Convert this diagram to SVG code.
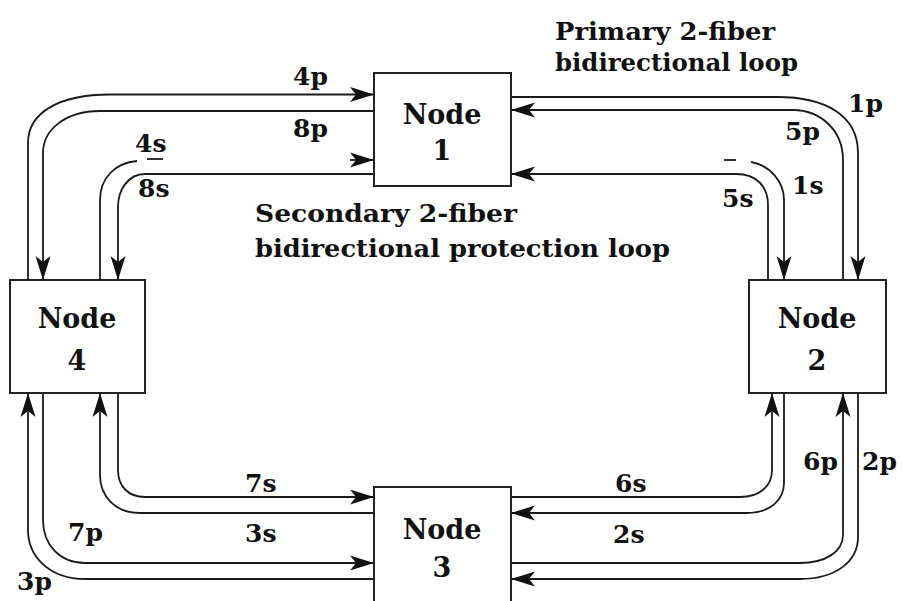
<svg xmlns="http://www.w3.org/2000/svg" width="902" height="601" viewBox="0 0 902 601">
<style>
.box{fill:#fff;stroke:#222;stroke-width:2}
.ln{fill:none;stroke:#1a1a1a;stroke-width:1.8}
.nt{font-family:"DejaVu Serif",serif;font-weight:bold;font-size:27px;fill:#111;text-anchor:middle}
.lb{font-family:"DejaVu Serif",serif;font-weight:bold;font-size:25px;fill:#111}
</style>
<defs>
<marker id="ar" markerUnits="userSpaceOnUse" markerWidth="26" markerHeight="18" refX="24" refY="9" orient="auto">
<path d="M24,9 L0,1.5 L6,9 L0,16.5 Z" fill="#111"/>
</marker>
</defs>
<rect width="902" height="601" fill="#fff"/>
<g id="connectors">
<path class="ln" d="M28,280 L28,143 C28,112 60,94.5 110,94.5 L374,94.5" marker-end="url(#ar)"/>
<path class="ln" d="M374,111 L100,111 C65,111 43,130 43,153 L43,280" marker-end="url(#ar)"/>
<path class="ln" d="M100,280 L100,200 C100,178 115,163 137,161"/>
<path class="ln" d="M147,159 L163,159"/>
<path class="ln" d="M350,160 L374,160" marker-end="url(#ar)"/>
<path class="ln" d="M374,174 L145,174 C128,174 118,190 118,207 L118,280" marker-end="url(#ar)"/>
<path class="ln" d="M511,97 L777,97 C825,97 858,115 858,153 L858,280" marker-end="url(#ar)"/>
<path class="ln" d="M843,280 L843,160 C843,130 820,110 793,110 L511,110" marker-end="url(#ar)"/>
<path class="ln" d="M724,160 L736,160"/>
<path class="ln" d="M751,162 C770,165 784,182 784,200 L784,280" marker-end="url(#ar)"/>
<path class="ln" d="M768,280 L768,205 C768,187 757,174 736,174 L511,174" marker-end="url(#ar)"/>
<path class="ln" d="M374,579 L85,579 C50,579 28,557 28,530 L28,393" marker-end="url(#ar)"/>
<path class="ln" d="M43,393 L43,520 C43,545 60,563 85,563 L374,563" marker-end="url(#ar)"/>
<path class="ln" d="M374,513 L140,513 C115,513 100,496 100,475 L100,393" marker-end="url(#ar)"/>
<path class="ln" d="M118,393 L118,470 C118,486 128,497 145,497 L374,497" marker-end="url(#ar)"/>
<path class="ln" d="M511,497 L740,497 C760,497 772,486 772,470 L772,393" marker-end="url(#ar)"/>
<path class="ln" d="M784,393 L784,483 C784,500 770,513 747,513 L511,513" marker-end="url(#ar)"/>
<path class="ln" d="M511,563 L800,563 C825,563 843,552 843,535 L843,393" marker-end="url(#ar)"/>
<path class="ln" d="M858,393 L858,537 C858,562 835,579 800,579 L511,579" marker-end="url(#ar)"/>
</g>
<g id="node1"><rect class="box" x="374" y="73" width="137" height="113"/><text class="nt" x="442" y="124">Node</text><text class="nt" x="442" y="160">1</text></g>
<g id="node2"><rect class="box" x="749" y="280" width="137" height="113"/><text class="nt" x="817" y="328">Node</text><text class="nt" x="817" y="370">2</text></g>
<g id="node3"><rect class="box" x="374" y="487" width="137" height="120"/><text class="nt" x="442" y="539">Node</text><text class="nt" x="442" y="577">3</text></g>
<g id="node4"><rect class="box" x="10" y="280" width="135" height="113"/><text class="nt" x="77" y="328">Node</text><text class="nt" x="77" y="370">4</text></g>
<g id="labels">
<text class="lb" x="555" y="40" textLength="220" lengthAdjust="spacingAndGlyphs">Primary 2-fiber</text>
<text class="lb" x="555" y="71" textLength="243" lengthAdjust="spacingAndGlyphs">bidirectional loop</text>
<text class="lb" x="255" y="222" textLength="262" lengthAdjust="spacingAndGlyphs">Secondary 2-fiber</text>
<text class="lb" x="255" y="257" textLength="415" lengthAdjust="spacingAndGlyphs">bidirectional protection loop</text>
<text class="lb" x="293" y="85">4p</text>
<text class="lb" x="293" y="137">8p</text>
<text class="lb" x="135" y="152">4s</text>
<text class="lb" x="138" y="197">8s</text>
<text class="lb" x="848" y="112">1p</text>
<text class="lb" x="785" y="140">5p</text>
<text class="lb" x="792" y="194">1s</text>
<text class="lb" x="722" y="207">5s</text>
<text class="lb" x="245" y="492">7s</text>
<text class="lb" x="245" y="542">3s</text>
<text class="lb" x="68" y="541">7p</text>
<text class="lb" x="17" y="590">3p</text>
<text class="lb" x="615" y="492">6s</text>
<text class="lb" x="613" y="543">2s</text>
<text class="lb" x="803" y="470">6p</text>
<text class="lb" x="862" y="470">2p</text>
</g>
</svg>
